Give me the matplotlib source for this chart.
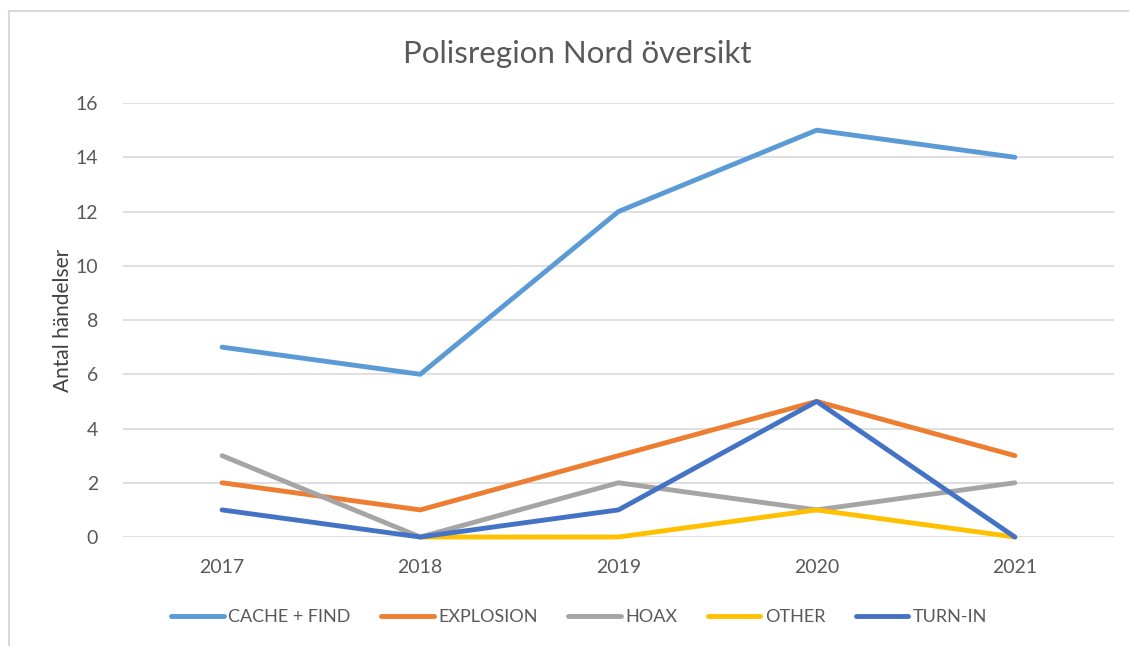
import matplotlib.pyplot as plt
from matplotlib.lines import Line2D

years = ["2017", "2018", "2019", "2020", "2021"]
cache_find = [7, 6, 12, 15, 14]
explosion = [2, 1, 3, 5, 3]
hoax = [3, 0, 2, 1, 2]
other = [None, 0, 0, 1, 0]  # no value for 2017
turn_in = [1, 0, 1, 5, 0]

series = [
    ("CACHE + FIND", cache_find, "#5B9BD5"),
    ("EXPLOSION", explosion, "#ED7D31"),
    ("HOAX", hoax, "#A5A5A5"),
    ("OTHER", other, "#FFC000"),
    ("TURN-IN", turn_in, "#4472C4"),
]

plt.rcParams["font.family"] = ["Lato", "DejaVu Sans"]
txt = "#595959"

fig = plt.figure(figsize=(11.29, 6.46), dpi=100)
ax = fig.add_axes([0.1089, 0.1687, 0.8778, 0.6718])

x = list(range(len(years)))
for name, vals, col in series:
    ys = [float("nan") if v is None else v for v in vals]
    ax.plot(x, ys, color=col, lw=3.5, label=name, solid_capstyle="round",
            solid_joinstyle="round", clip_on=False)

ax.set_xlim(-0.5, len(years) - 0.5)
ax.set_ylim(0, 16)
ax.set_yticks(range(0, 17, 2))
ax.set_xticks(x)
ax.set_xticklabels(years)
ax.grid(axis="y", color="#D9D9D9", lw=1.2)
ax.set_axisbelow(True)
for s in ax.spines.values():
    s.set_visible(False)
ax.tick_params(length=0, labelsize=14, labelcolor=txt)
ax.tick_params(axis="y", pad=18)
ax.tick_params(axis="x", pad=16)
ax.set_ylabel("Antal händelser", fontsize=15, color="#404040", labelpad=2)

fig.text(0.511, 0.916, "Polisregion Nord översikt", ha="center", va="center",
         fontsize=22.5, color=txt)

fig.legend(loc="center", bbox_to_anchor=(0.513, 0.045), ncol=5, frameon=False,
           fontsize=13, labelcolor=txt, handlelength=2.9, handletextpad=0.25,
           columnspacing=1.7)

# chart border (cropped at right and bottom)
fig.add_artist(Line2D([9 / 1129, 9 / 1129], [0, 1 - 11 / 646], color="#D9D9D9", lw=1.5))
fig.add_artist(Line2D([9 / 1129, 1], [1 - 11 / 646, 1 - 11 / 646], color="#D9D9D9", lw=1.5))

fig.savefig("out.png", dpi=100, facecolor="white")
